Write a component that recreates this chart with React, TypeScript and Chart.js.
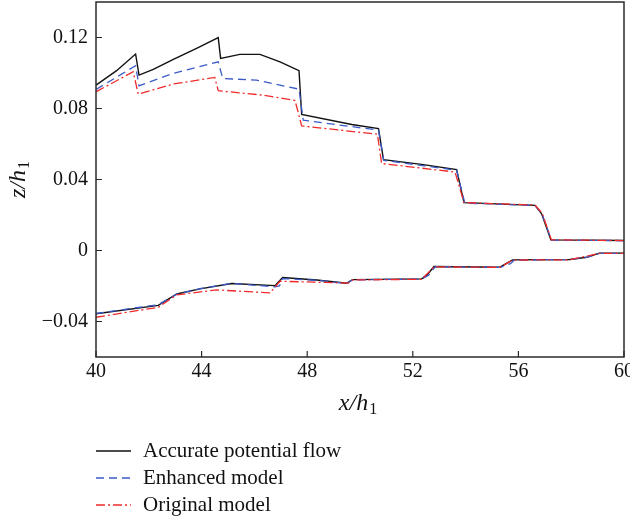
import React, { useEffect, useRef } from 'react';
import { Chart, registerables } from 'chart.js';

Chart.register(...registerables);

const xTicks = [40, 44, 48, 52, 56, 60];
const yTicks = [-0.04, 0, 0.04, 0.08, 0.12];

const seriesLabels = ['Accurate potential flow', 'Enhanced model', 'Original model'];

// Accurate potential flow – upper interface
const accUpperX = [40, 40.78, 41.5, 41.63, 42.17, 42.93, 43.81, 44.63, 44.72, 45.45, 46.21, 46.97, 47.69, 47.79, 49.69, 50.7, 50.89, 52.4, 53.66, 53.94, 56.63, 56.88, 57.23, 60];
const accUpperY = [0.0932, 0.1013, 0.1107, 0.0988, 0.102, 0.1077, 0.1139, 0.1199, 0.1082, 0.1105, 0.1105, 0.1063, 0.1013, 0.0766, 0.071, 0.0687, 0.0512, 0.0484, 0.0456, 0.027, 0.0254, 0.0207, 0.006, 0.0056];
// Accurate potential flow – lower interface
const accLowerX = [40, 42.36, 43.06, 43.94, 45.14, 46.78, 47.07, 48.36, 49.5, 49.72, 52.34, 52.55, 52.8, 55.3, 55.78, 57.95, 58.59, 59.07, 60];
const accLowerY = [-0.0356, -0.0309, -0.0245, -0.0216, -0.0186, -0.0198, -0.0152, -0.0166, -0.0184, -0.0164, -0.016, -0.0136, -0.009, -0.0094, -0.0053, -0.0051, -0.0038, -0.0015, -0.0015];

// Enhanced model
const enhUpperX = [40, 41.5, 41.63, 42.93, 44.63, 44.8, 46.08, 47.69, 47.85, 50.7, 50.9, 53.66, 53.97, 56.63, 56.9, 57.25, 60];
const enhUpperY = [0.0907, 0.1041, 0.0928, 0.0998, 0.1063, 0.0969, 0.096, 0.0909, 0.0734, 0.0678, 0.0508, 0.0452, 0.0267, 0.0254, 0.0205, 0.0058, 0.0056];
const enhLowerX = [40, 42.36, 43.06, 43.94, 45.14, 46.78, 46.95, 47.07, 48.36, 49.5, 49.72, 52.34, 52.6, 52.85, 55.3, 55.7, 55.85, 57.95, 58.59, 59.07, 60];
const enhLowerY = [-0.0355, -0.0305, -0.0246, -0.0215, -0.0185, -0.0205, -0.02, -0.0158, -0.0168, -0.0185, -0.0165, -0.0161, -0.014, -0.0091, -0.0095, -0.0074, -0.0053, -0.0051, -0.0038, -0.0016, -0.0016];

// Original model
const oriUpperX = [40, 41.41, 41.6, 42.93, 44.5, 44.63, 46.34, 47.54, 47.79, 50.66, 50.82, 53.6, 53.94, 56.63, 56.9, 57.25, 60];
const oriUpperY = [0.0894, 0.1007, 0.0881, 0.0938, 0.0975, 0.09, 0.0875, 0.0845, 0.0702, 0.0655, 0.049, 0.0442, 0.027, 0.0256, 0.021, 0.006, 0.0056];
const oriLowerX = [40, 42.36, 43.06, 44.57, 46.59, 46.97, 49.56, 49.72, 52.34, 52.8, 55.3, 55.78, 57.95, 59.07, 60];
const oriLowerY = [-0.0376, -0.032, -0.025, -0.0222, -0.0239, -0.0173, -0.0184, -0.0166, -0.0162, -0.0092, -0.0095, -0.0054, -0.0052, -0.0016, -0.0016];

const colors = ['#111111', '#3a5ac8', '#f02a2a'];
const dashes: number[][] = [[], [8, 5], [9, 3, 2, 3]];
const widths = [1.4, 1.3, 1.3];

const FONT = '"Liberation Serif", "Times New Roman", serif';

function joinCurves(ux: number[], uy: number[], lx: number[], ly: number[]) {
  const pts: { x: number; y: number | null }[] = [];
  ux.forEach((x, i) => pts.push({ x, y: uy[i] }));
  pts.push({ x: 60, y: null });
  lx.forEach((x, i) => pts.push({ x, y: ly[i] }));
  return pts;
}

function drawTitle(ctx: CanvasRenderingContext2D, main: string, sub: string) {
  ctx.font = `italic 24px ${FONT}`;
  const w1 = ctx.measureText(main).width;
  ctx.font = `16px ${FONT}`;
  const w2 = ctx.measureText(sub).width;
  const total = w1 + w2 + 1;
  const x = -total / 2;
  ctx.textAlign = 'left';
  ctx.textBaseline = 'alphabetic';
  ctx.font = `italic 24px ${FONT}`;
  ctx.fillText(main, x, 0);
  ctx.font = `16px ${FONT}`;
  ctx.fillText(sub, x + w1 + 1, 4);
}

const decorPlugin = {
  id: 'decor',
  afterDraw(chart: any) {
    const { ctx, chartArea } = chart;
    const { left, right, top, bottom } = chartArea;
    const xs = chart.scales.x;
    const ys = chart.scales.y;
    ctx.save();
    // frame
    ctx.strokeStyle = '#2a2a2a';
    ctx.lineWidth = 1.5;
    ctx.setLineDash([]);
    ctx.strokeRect(left, top, right - left, bottom - top);
    // inward ticks
    ctx.lineWidth = 1.2;
    ctx.beginPath();
    xTicks.forEach((v) => {
      const px = xs.getPixelForValue(v);
      ctx.moveTo(px, bottom);
      ctx.lineTo(px, bottom - 6);
    });
    yTicks.forEach((v) => {
      const py = ys.getPixelForValue(v);
      ctx.moveTo(left, py);
      ctx.lineTo(left + 6, py);
    });
    ctx.stroke();

    // axis titles
    ctx.fillStyle = '#111';
    ctx.save();
    ctx.translate((left + right) / 2 - 2, 410);
    drawTitle(ctx, 'x/h', '1');
    ctx.restore();
    ctx.save();
    ctx.translate(25, (top + bottom) / 2);
    ctx.rotate(-Math.PI / 2);
    drawTitle(ctx, 'z/h', '1');
    ctx.restore();

    // legend
    const rows = [451, 478, 505];
    seriesLabels.forEach((lab, i) => {
      const y = rows[i];
      ctx.strokeStyle = colors[i];
      ctx.lineWidth = widths[i];
      ctx.setLineDash(dashes[i]);
      ctx.beginPath();
      ctx.moveTo(96, y);
      ctx.lineTo(131, y);
      ctx.stroke();
      ctx.setLineDash([]);
      ctx.fillStyle = '#111';
      ctx.font = `21px ${FONT}`;
      ctx.textAlign = 'left';
      ctx.textBaseline = 'middle';
      ctx.fillText(lab, 143, y);
    });
    ctx.restore();
  },
};

export default function App() {
  const ref = useRef<HTMLCanvasElement | null>(null);
  useEffect(() => {
    if (!ref.current) return;
    const datasets = [
      joinCurves(accUpperX, accUpperY, accLowerX, accLowerY),
      joinCurves(enhUpperX, enhUpperY, enhLowerX, enhLowerY),
      joinCurves(oriUpperX, oriUpperY, oriLowerX, oriLowerY),
    ]
      .map((data, i) => ({
        label: seriesLabels[i],
        data,
        borderColor: colors[i],
        borderWidth: widths[i],
        borderDash: dashes[i],
        pointRadius: 0,
        fill: false,
        tension: 0,
        spanGaps: false,
      }))
      .reverse();
    const tickFont = { family: FONT, size: 20 };
    const chart = new Chart(ref.current, {
      type: 'line',
      data: { datasets: datasets as any },
      options: {
        animation: false,
        responsive: false,
        maintainAspectRatio: false,
        layout: { padding: { left: 0, top: 2, right: 6, bottom: 0 } },
        plugins: { legend: { display: false }, tooltip: { enabled: false } },
        scales: {
          x: {
            type: 'linear',
            min: 40,
            max: 60,
            afterBuildTicks: (s: any) => {
              s.ticks = xTicks.map((v) => ({ value: v }));
            },
            afterFit: (s: any) => {
              s.height = 166;
              s.paddingLeft = 0;
              s.paddingRight = 0;
            },
            grid: { display: false, drawTicks: false },
            border: { display: false },
            ticks: {
              font: tickFont,
              color: '#111',
              padding: 3,
              maxRotation: 0,
              autoSkip: false,
              callback: (v: any) => String(v),
            },
          },
          y: {
            type: 'linear',
            min: -0.06,
            max: 0.14,
            afterBuildTicks: (s: any) => {
              s.ticks = yTicks.map((v) => ({ value: v }));
            },
            afterFit: (s: any) => {
              s.width = 96;
              s.paddingTop = 0;
              s.paddingBottom = 0;
            },
            grid: { display: false, drawTicks: false },
            border: { display: false },
            ticks: {
              font: tickFont,
              color: '#111',
              padding: 8,
              autoSkip: false,
              callback: (v: any) => {
                const n = Number(v);
                if (Math.abs(n) < 1e-9) return '0';
                return n < 0 ? '\u2212' + Math.abs(n).toFixed(2) : n.toFixed(2);
              },
            },
          },
        },
      },
      plugins: [decorPlugin],
    });
    return () => chart.destroy();
  }, []);
  return (
    <div style={{ position: 'fixed', left: 0, top: 0, width: 630, height: 523, background: '#fff' }}>
      <canvas ref={ref} width={630} height={523} style={{ display: 'block', width: 630, height: 523 }} />
    </div>
  );
}
